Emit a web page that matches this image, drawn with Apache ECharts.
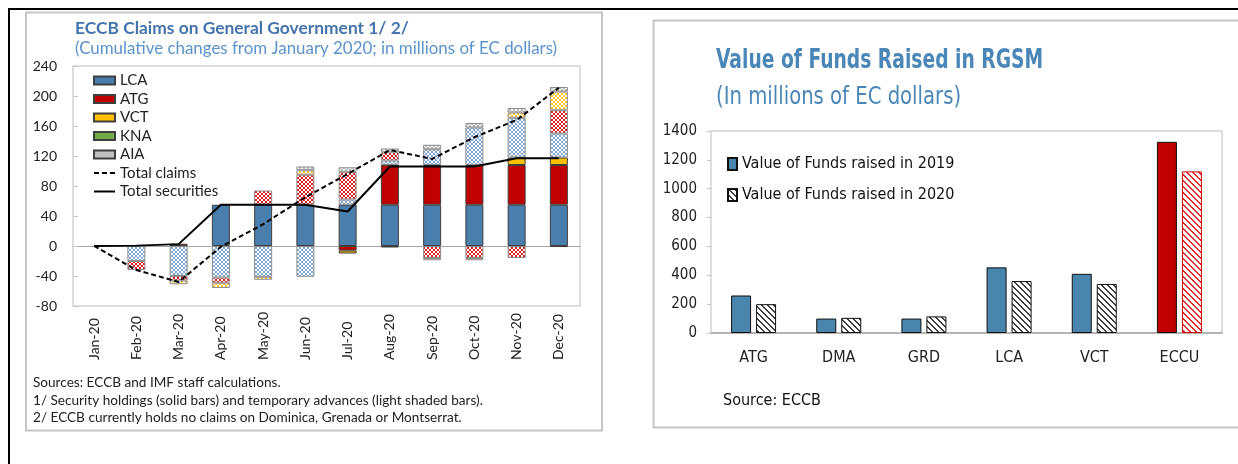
<!DOCTYPE html>
<html>
<head>
<meta charset="utf-8">
<script src="https://cdn.jsdelivr.net/npm/echarts@6/dist/echarts.min.js"></script>
<style>
html, body { margin: 0; padding: 0; background: #fff; }
#chart { width: 1238px; height: 464px; }
</style>
</head>
<body>
<div id="chart"></div>
<script>
// left panel: cumulative changes since Jan 2020
var months = ['Jan-20', 'Feb-20', 'Mar-20', 'Apr-20', 'May-20', 'Jun-20',
              'Jul-20', 'Aug-20', 'Sep-20', 'Oct-20', 'Nov-20', 'Dec-20'];
// security holdings (solid bars)
var lcaSec = [0, 0, 0, 55, 55, 55, 55, 55, 55, 55, 55, 55];
var atgSec = [0, 0, 3, 0, 0, 0, -6, 53, 53, 53, 53, 53];
var vctSec = [0, 0, 0, 0, 0, 0, -4, 0, 0, 0, 10, 10];
var knaSec = [0, 0, 0, 0, 0, 0, 0, -2, 0, 0, 0, -1];
var aiaSec = [0, 0, 0, 0, 0, 0, 0, 0, 0, 0, 0, 0];
// temporary advances (light shaded bars)
var lcaAdv = [0, -20, -40, -42, -41, -41, 7, 6, 21, 50, 53, 32];
var atgAdv = [0, -12, -6, -7, 19, 40, 37, 11, -16, -16, -16, 31];
var vctAdv = [0, 0, -5, -7, -4, 6, 0, 0, -3, -3, 7, 25];
var knaAdv = [0, 0, 0, 0, 0, 0, 0, 0, 0, 0, 0, 0];
var aiaAdv = [0, 0, 0, 0, 0, 5, 6, 5, 6, 6, 6, 6];
var totalClaims = [0, -32, -48, -1, 29, 65, 96, 128, 116, 145, 168, 211];
var totalSecurities = [0, 0.5, 2.5, 55, 55, 55, 46, 106, 106, 106, 117, 117];
var leftTicks = { min: -80, max: 240, step: 40 };

// right panel: RGSM
var rgsmCats = ['ATG', 'DMA', 'GRD', 'LCA', 'VCT', 'ECCU'];
var funds2019 = [260, 100, 100, 455, 410, 1325];
var funds2020 = [200, 105, 115, 360, 340, 1120];
var rightTicks = { min: 0, max: 1400, step: 200 };

var BODY = "Lato, 'Open Sans', sans-serif";
var NARROW = "'Liberation Sans Narrow', 'DejaVu Sans Condensed', 'Arial Narrow', sans-serif";

// small canvas patterns for the shaded bars
function crossHatch(fg) {
    var c = document.createElement('canvas');
    c.width = 4; c.height = 4;
    var ctx = c.getContext('2d');
    ctx.fillStyle = '#fff';
    ctx.fillRect(0, 0, 4, 4);
    ctx.fillStyle = fg;
    for (var i = 0; i < 4; i++) {
        ctx.fillRect(i, i, 1, 1);
        ctx.fillRect(3 - i, i, 1, 1);
    }
    return { image: c, repeat: 'repeat' };
}
function stripes(fg) {
    var c = document.createElement('canvas');
    c.width = 6; c.height = 6;
    var ctx = c.getContext('2d');
    ctx.fillStyle = '#fff';
    ctx.fillRect(0, 0, 6, 6);
    ctx.fillStyle = fg;
    for (var y = 0; y < 6; y++) {
        for (var x = 0; x < 6; x++) {
            if ((x - y + 12) % 6 < 2) ctx.fillRect(x, y, 1, 1);
        }
    }
    return { image: c, repeat: 'repeat' };
}
// zero bars are left out so they do not draw a border line
function bars(arr) {
    return arr.map(function (v) { return v === 0 ? '-' : v; });
}

function stackBar(name, data, fill, border) {
    return {
        name: name, type: 'bar', stack: 'claims',
        xAxisIndex: 0, yAxisIndex: 0,
        barWidth: 18,
        data: bars(data),
        itemStyle: { color: fill, borderColor: border, borderWidth: 1 }
    };
}

var solidBorder = '#3f3f3f';
var shadeBorder = '#8c8c8c';

var series = [
    stackBar('LCA', lcaSec, '#4a7eac', solidBorder),
    stackBar('ATG', atgSec, '#c00000', solidBorder),
    stackBar('VCT', vctSec, '#ffc000', solidBorder),
    stackBar('KNA', knaSec, '#70ad47', solidBorder),
    stackBar('AIA', aiaSec, '#bfbfbf', solidBorder),
    stackBar('LCA adv', lcaAdv, crossHatch('#80a8d0'), shadeBorder),
    stackBar('ATG adv', atgAdv, crossHatch('#d81e1e'), shadeBorder),
    stackBar('VCT adv', vctAdv, crossHatch('#ffc425'), shadeBorder),
    stackBar('KNA adv', knaAdv, crossHatch('#8cc46a'), shadeBorder),
    stackBar('AIA adv', aiaAdv, crossHatch('#b8b8b8'), shadeBorder),
    {
        name: 'Total claims', type: 'line', xAxisIndex: 0, yAxisIndex: 0,
        data: totalClaims, symbol: 'none', z: 5,
        lineStyle: { color: '#000', width: 2, type: [5, 3] }
    },
    {
        name: 'Total securities', type: 'line', xAxisIndex: 0, yAxisIndex: 0,
        data: totalSecurities, symbol: 'none', z: 5,
        lineStyle: { color: '#000', width: 2 }
    },
    {
        name: 'Value of Funds raised in 2019', type: 'bar',
        xAxisIndex: 2, yAxisIndex: 1,
        barWidth: 20, barGap: '25%',
        data: funds2019.map(function (v, i) {
            return rgsmCats[i] === 'ECCU' ? { value: v, itemStyle: { color: '#c00000' } } : v;
        }),
        itemStyle: { color: '#4a85ad', borderColor: '#111', borderWidth: 1 }
    },
    {
        name: 'Value of Funds raised in 2020', type: 'bar',
        xAxisIndex: 2, yAxisIndex: 1,
        barWidth: 20, barGap: '25%',
        data: funds2020.map(function (v, i) {
            return rgsmCats[i] === 'ECCU'
                ? { value: v, itemStyle: { color: stripes('#e3262a'), borderColor: '#d00000' } }
                : v;
        }),
        itemStyle: { color: stripes('#3d3d3d'), borderColor: '#111', borderWidth: 1 }
    }
];

var axisGray = '#a6a6a6';

var option = {
    animation: false,
    backgroundColor: '#fff',
    grid: [
        { left: 73, top: 66, width: 507, height: 240, show: true, borderColor: '#d4d4d4', borderWidth: 1.5 },
        { left: 711, top: 131, width: 511, height: 202, show: true, borderColor: '#d4d4d4', borderWidth: 1.5 }
    ],
    xAxis: [
        {
            gridIndex: 0, type: 'category', data: months, position: 'bottom',
            axisLine: { show: false, onZero: false },
            axisTick: { show: false },
            axisLabel: { rotate: 90, align: 'left', margin: 54, fontSize: 14, color: '#222', fontFamily: BODY }
        },
        {
            // the zero line with its small category ticks
            gridIndex: 0, type: 'category', data: months, position: 'bottom',
            axisLine: { onZero: true, lineStyle: { color: axisGray, width: 1 } },
            axisTick: { inside: true, length: 4, lineStyle: { color: axisGray } },
            axisLabel: { show: false }
        },
        {
            gridIndex: 1, type: 'category', data: rgsmCats,
            axisLine: { lineStyle: { color: axisGray, width: 1.5 } },
            axisTick: { inside: true, length: 4, lineStyle: { color: axisGray } },
            axisLabel: { margin: 17, fontSize: 16, color: '#222', fontFamily: NARROW }
        }
    ],
    yAxis: [
        {
            gridIndex: 0, type: 'value',
            min: leftTicks.min, max: leftTicks.max, interval: leftTicks.step,
            axisLine: { show: false },
            axisTick: { show: true, inside: true, length: 5, lineStyle: { color: '#c8c8c8' } },
            splitLine: { show: false },
            axisLabel: { margin: 16, fontSize: 14, color: '#222', fontFamily: BODY }
        },
        {
            gridIndex: 1, type: 'value',
            min: rightTicks.min, max: rightTicks.max, interval: rightTicks.step,
            axisLine: { show: false },
            axisTick: { show: true, length: 4, lineStyle: { color: '#c8c8c8' } },
            splitLine: { show: false },
            axisLabel: {
                margin: 14, fontSize: 15, color: '#222', fontFamily: NARROW,
                formatter: function (v) { return String(v); }
            }
        }
    ],
    legend: [
        {
            orient: 'vertical', left: 88, top: 68,
            itemWidth: 21, itemHeight: 8, itemGap: 3.5,
            selectedMode: false,
            textStyle: { fontSize: 15, lineHeight: 15, color: '#222', fontFamily: BODY },
            data: [
                { name: 'LCA', icon: 'rect' },
                { name: 'ATG', icon: 'rect' },
                { name: 'VCT', icon: 'rect' },
                { name: 'KNA', icon: 'rect' },
                { name: 'AIA', icon: 'rect' },
                { name: 'Total claims', itemStyle: { opacity: 0 } },
                { name: 'Total securities', itemStyle: { opacity: 0 } }
            ]
        },
        {
            orient: 'vertical', left: 722, top: 151,
            itemWidth: 9, itemHeight: 12, itemGap: 15,
            selectedMode: false, icon: 'rect',
            textStyle: { fontSize: 16, lineHeight: 16, color: '#111', fontFamily: NARROW },
            data: ['Value of Funds raised in 2019', 'Value of Funds raised in 2020']
        }
    ],
    graphic: [
        // outer black frame
        { type: 'rect', shape: { x: 8, y: 8, width: 1230, height: 2 }, style: { fill: '#000' }, z: 10 },
        { type: 'rect', shape: { x: 8, y: 8, width: 2, height: 456 }, style: { fill: '#000' }, z: 10 },
        // panel borders
        { type: 'rect', shape: { x: 26, y: 12.5, width: 576, height: 418 }, style: { fill: 'none', stroke: '#c6c6c6', lineWidth: 2 }, z: 10 },
        { type: 'rect', shape: { x: 653.5, y: 20.5, width: 620, height: 407 }, style: { fill: 'none', stroke: '#c6c6c6', lineWidth: 2 }, z: 10 },
        // left titles and notes
        { type: 'text', x: 75, y: 28, style: { text: 'ECCB Claims on General Government 1/ 2/', fill: '#4574ad', font: 'bold 17.4px ' + BODY, textVerticalAlign: 'middle' } },
        { type: 'text', x: 75, y: 49, style: { text: '(Cumulative changes from January 2020; in millions of EC dollars)', fill: '#5b94cc', font: '16.9px ' + BODY, textVerticalAlign: 'middle' } },
        { type: 'text', x: 33, y: 383, style: { text: 'Sources: ECCB and IMF staff calculations.', fill: '#222', font: '13.6px ' + BODY, textVerticalAlign: 'middle' } },
        { type: 'text', x: 33, y: 401, style: { text: '1/ Security holdings (solid bars) and temporary advances (light shaded bars).', fill: '#222', font: '13.6px ' + BODY, textVerticalAlign: 'middle' } },
        { type: 'text', x: 33, y: 418, style: { text: '2/ ECCB currently holds no claims on Dominica, Grenada or Montserrat.', fill: '#222', font: '13.6px ' + BODY, textVerticalAlign: 'middle' } },
        // right titles and source (narrowed to the reference widths)
        { type: 'text', x: 716, y: 61, scaleX: 0.8, style: { text: 'Value of Funds Raised in RGSM', fill: '#4a87b8', font: 'bold 26px ' + NARROW, textVerticalAlign: 'middle' } },
        { type: 'text', x: 716, y: 98, scaleX: 0.91, style: { text: '(In millions of EC dollars)', fill: '#4a87b8', font: '24px ' + NARROW, textVerticalAlign: 'middle' } },
        { type: 'text', x: 723, y: 401, style: { text: 'Source: ECCB', fill: '#111', font: '16px ' + NARROW, textVerticalAlign: 'middle' } }
    ],
    series: series
};

var chart = echarts.init(document.getElementById('chart'));
chart.setOption(option);
</script>
</body>
</html>
